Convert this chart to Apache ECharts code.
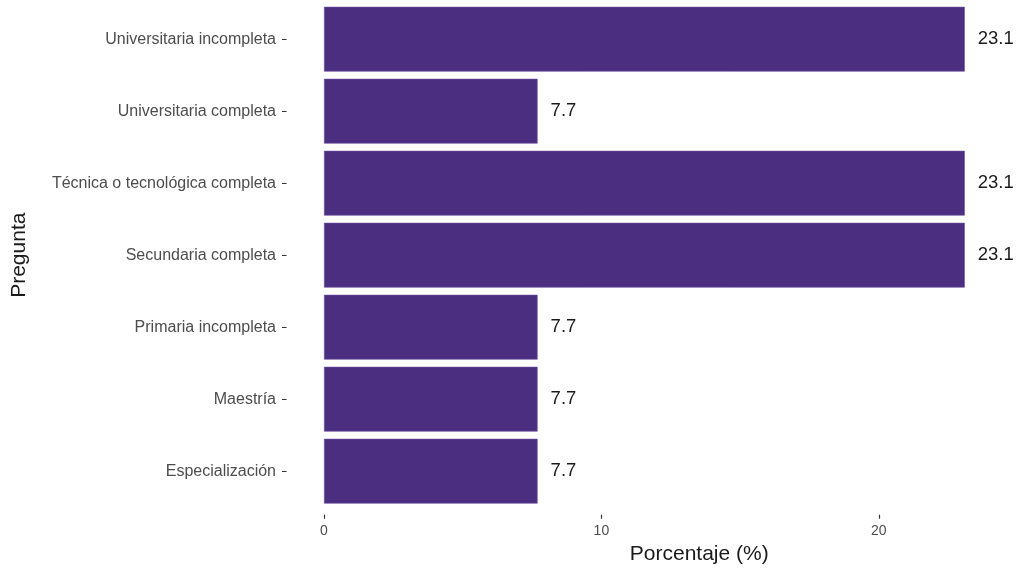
<!DOCTYPE html>
<html>
<head>
<meta charset="utf-8">
<script src="https://cdn.jsdelivr.net/npm/echarts@6/dist/echarts.min.js"></script>
<style>html,body{margin:0;padding:0;background:#fff}#c{width:1020px;height:572px}</style>
</head>
<body>
<div id="c"></div>
<script>
const categories = ['Especialización','Maestría','Primaria incompleta','Secundaria completa','Técnica o tecnológica completa','Universitaria completa','Universitaria incompleta'];
const values = [7.7, 7.7, 7.7, 23.1, 23.1, 7.7, 23.1];
const xTicks = [0, 10, 20];

const chart = echarts.init(document.getElementById('c'));
chart.setOption({
  animation: false,
  backgroundColor: '#ffffff',
  grid: {left: 324, right: 2.5, top: 3.2, bottom: 64.8, containLabel: false, outerBoundsMode: 'none'},
  xAxis: {
    type: 'value', min: 0, max: 25, interval: 10,
    offset: 7.5,
    name: 'Porcentaje (%)', nameLocation: 'middle', nameGap: 29,
    nameTextStyle: {fontFamily: 'Liberation Sans', fontSize: 21, color: '#1a1a1a', padding: [0,0,0,57]},
    axisLine: {show: false},
    axisTick: {show: true, length: 4, customValues: xTicks,
      lineStyle: {color: '#333333', width: 1.2}},
    axisLabel: {fontFamily: 'Liberation Sans', fontSize: 14, color: '#4d4d4d', margin: 9,
      customValues: xTicks},
    splitLine: {show: false}
  },
  yAxis: {
    type: 'category', data: categories,
    name: 'Pregunta', nameLocation: 'middle', nameGap: 294, nameRotate: 90,
    nameTextStyle: {fontFamily: 'Liberation Sans', fontSize: 21, color: '#1a1a1a', padding: [0,0,0,0]},
    axisLine: {show: false},
    axisTick: {show: true, alignWithLabel: true, length: 42,
      lineStyle: {color: '#333333', width: 1.2, type: [0, 37.5, 4.5, 100]}},
    axisLabel: {fontFamily: 'Liberation Sans', fontSize: 16, color: '#4d4d4d', margin: 48}
  },
  series: [{
    type: 'bar', data: values, barCategoryGap: '10%',
    itemStyle: {color: '#4B2E80', borderColor: '#6a52a0', borderWidth: 0.6},
    label: {show: true, position: 'right', distance: 13, fontFamily: 'Liberation Sans', fontSize: 18.5, color: '#1a1a1a',
      formatter: p => p.value.toFixed(1)}
  }]
});
</script>
</body>
</html>
